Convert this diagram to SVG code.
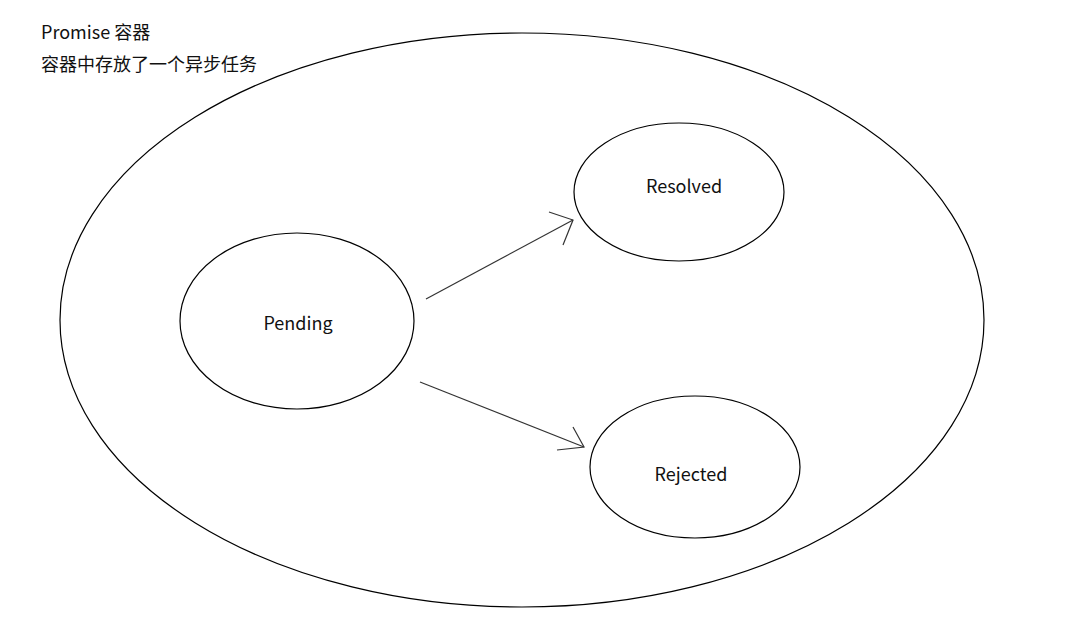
<svg xmlns="http://www.w3.org/2000/svg" width="1067" height="630" viewBox="0 0 1067 630">
<style>
.shape{fill:none;stroke:#000;stroke-width:1.2}
.ln{fill:none;stroke:#333;stroke-width:1.2}
text{font-family:"Noto Sans CJK SC","Liberation Sans",sans-serif;font-size:18px;fill:#111}
.lbl{text-anchor:middle}
</style>
<rect width="1067" height="630" fill="#fff"/>
<g id="container">
<ellipse class="shape" cx="522" cy="320" rx="462" ry="287"/>
<text x="41" y="39">Promise 容器</text>
<text x="41" y="71">容器中存放了一个异步任务</text>
</g>
<g id="pending">
<ellipse class="shape" cx="297" cy="321" rx="117" ry="88"/>
<text class="lbl" x="298" y="330">Pending</text>
</g>
<g id="resolved">
<ellipse class="shape" cx="679" cy="192" rx="105" ry="69"/>
<text class="lbl" x="684" y="193">Resolved</text>
</g>
<g id="rejected">
<ellipse class="shape" cx="695" cy="467" rx="105" ry="71"/>
<text class="lbl" x="691" y="481">Rejected</text>
</g>
<g id="connectors">
<path class="ln" d="M426 299 L573 220"/>
<path class="ln" d="M549 212 L573 220 L563 245"/>
<path class="ln" d="M420 382 L584 447"/>
<path class="ln" d="M573 427 L584 447 L557 450"/>
</g>
</svg>
